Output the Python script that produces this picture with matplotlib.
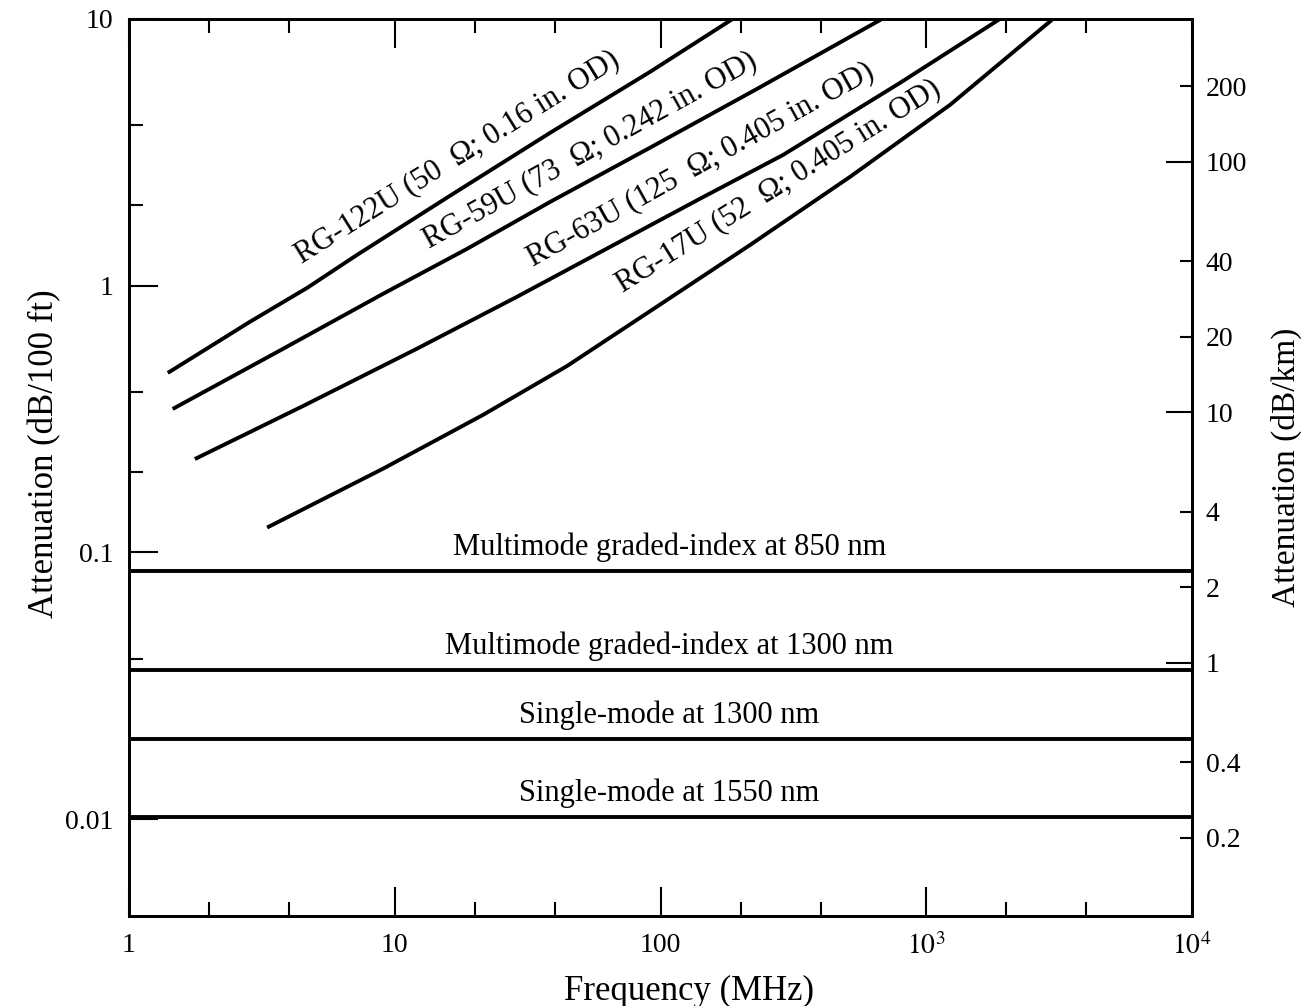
import matplotlib.pyplot as plt
from matplotlib.ticker import FixedLocator, FixedFormatter, NullFormatter

plt.rcParams.update({
    "font.family": "Liberation Serif",
    "font.size": 20,
    "mathtext.fontset": "stix",
})

# coax cables: frequency (MHz) vs attenuation (dB/100 ft)
rg122u_f = [1.40, 2.85, 4.68, 7.21, 16.1, 38.4, 91.3, 187]
rg122u_a = [0.471, 0.732, 0.981, 1.304, 2.17, 3.74, 6.33, 10.0]

rg59u_f = [1.46, 3.80, 9.03, 18.7, 38.4, 91.3, 231, 682]
rg59u_a = [0.345, 0.580, 0.932, 1.374, 2.06, 3.29, 5.47, 10.0]

rg63u_f = [1.77, 4.52, 12.1, 28.8, 57.7, 141, 289, 797, 1894]
rg63u_a = [0.224, 0.354, 0.580, 0.908, 1.316, 2.12, 3.09, 5.76, 10.0]

rg17u_f = [3.31, 9.03, 21.5, 44.5, 97.9, 217, 517, 1228, 2999]
rg17u_a = [0.124, 0.206, 0.328, 0.500, 0.840, 1.42, 2.56, 4.76, 10.0]

coax_labels = ["RG-122U (50  \u03a9; 0.16 in. OD)",
               "RG-59U (73  \u03a9; 0.242 in. OD)",
               "RG-63U (125  \u03a9; 0.405 in. OD)",
               "RG-17U (52  \u03a9; 0.405 in. OD)"]

# optical fibers: flat attenuation (dB/100 ft)
fiber_labels = ["Multimode graded-index at 850 nm",
                "Multimode graded-index at 1300 nm",
                "Single-mode at 1300 nm",
                "Single-mode at 1550 nm"]
fiber_att = [0.0853, 0.0363, 0.0200, 0.0102]

x_major = [1, 10, 100, 1000, 10000]
x_labels = ["1", "10", "100", "$10^3$", "$10^4$"]
x_minor = [2, 4, 20, 40, 200, 400, 2000, 4000]

y_major = [0.01, 0.1, 1, 10]
y_labels = ["0.01", "0.1", "1", "10"]
y_minor = [0.02, 0.04, 0.2, 0.4, 2, 4]

r_major = [1, 10, 100]
r_labels = ["1", "10", "100"]
r_minor = [0.2, 0.4, 2, 4, 20, 40, 200]
r_minor_labels = ["0.2", "0.4", "2", "4", "20", "40", "200"]

fig = plt.figure(figsize=(13.16, 10.06), dpi=100)
ax = fig.add_axes([0.0980, 0.0895, 0.8078, 0.8917])
ax.set_xscale("log")
ax.set_yscale("log")
ax.set_xlim(1, 1e4)
ax.set_ylim(0.00434, 10)

coax = [(rg122u_f, rg122u_a), (rg59u_f, rg59u_a), (rg63u_f, rg63u_a), (rg17u_f, rg17u_a)]
for f, a in coax:
    ax.plot(f, a, color="black", lw=2.8, solid_capstyle="butt", solid_joinstyle="round")

for v in fiber_att:
    ax.axhline(v, color="black", lw=2.8)

# curve labels (placed along each curve)
label_pos = [(17.2, 3.04, 32), (54.3, 3.23, 29), (142, 2.85, 29), (277, 2.37, 32)]
for (x, y, rot), txt in zip(label_pos, coax_labels):
    ax.text(x, y, txt, rotation=rot, rotation_mode="anchor",
            ha="center", va="center", fontsize=22)

for v, txt in zip(fiber_att, fiber_labels):
    ax.annotate(txt, xy=(108, v), xytext=(0, 17), textcoords="offset points",
                ha="center", va="center", fontsize=22)

ax.xaxis.set_major_locator(FixedLocator(x_major))
ax.xaxis.set_major_formatter(FixedFormatter(x_labels))
ax.xaxis.set_minor_locator(FixedLocator(x_minor))
ax.xaxis.set_minor_formatter(NullFormatter())
ax.yaxis.set_major_locator(FixedLocator(y_major))
ax.yaxis.set_major_formatter(FixedFormatter(y_labels))
ax.yaxis.set_minor_locator(FixedLocator(y_minor))
ax.yaxis.set_minor_formatter(NullFormatter())

ax.tick_params(which="both", direction="in", top=True, right=False, width=1.5)
ax.tick_params(which="major", length=21, labelsize=20)
ax.tick_params(axis="y", which="major", pad=11)
ax.tick_params(axis="x", which="major", pad=12)
ax.tick_params(which="minor", length=10)

ax.set_xlabel("Frequency (MHz)", fontsize=25)
ax.xaxis.set_label_coords(0.527, -0.066)
ax.set_ylabel("Attenuation (dB/100 ft)", fontsize=25)
ax.yaxis.set_label_coords(-0.064, 0.515)

# right axis in dB/km
ax2 = ax.twinx()
ax2.set_yscale("log")
ax2.set_ylim(0.0976, 371.7)
ax2.yaxis.set_major_locator(FixedLocator(r_major))
ax2.yaxis.set_major_formatter(FixedFormatter(r_labels))
ax2.yaxis.set_minor_locator(FixedLocator(r_minor))
ax2.yaxis.set_minor_formatter(FixedFormatter(r_minor_labels))
ax2.tick_params(which="both", direction="in", width=1.5, labelsize=20, pad=10)
ax2.tick_params(which="major", length=19)
ax2.tick_params(which="minor", length=9)
ax2.set_ylabel("Attenuation (dB/km)", fontsize=24)
ax2.yaxis.set_label_coords(1.0745, 0.50)

for a in (ax, ax2):
    for s in a.spines.values():
        s.set_linewidth(2)

plt.savefig("out.png", dpi=100)
